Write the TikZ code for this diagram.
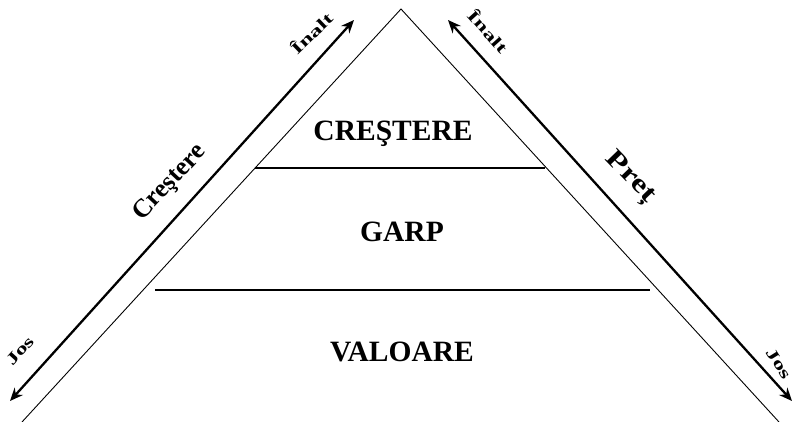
\documentclass[tikz,border=0pt]{standalone}
\usepackage{fontspec}
\setmainfont{Liberation Serif}
\usetikzlibrary{arrows.meta}
\tikzset{
  side/.style={line width=0.9pt},
  band/.style={line width=1.3pt},
  dblarrow/.style={line width=2.3pt,{Stealth[length=13pt,width=11pt]}-{Stealth[length=13pt,width=11pt]}},
  title/.style={font=\fontsize{29.5}{31}\selectfont\bfseries},
  axislbl/.style={font=\fontsize{26}{28}\selectfont\bfseries, inner sep=1pt},
  endlbl/.style={font=\fontsize{16}{18}\selectfont\bfseries, inner sep=1pt}
}
\newcommand{\stretchlbl}[2]{\scalebox{#1}[1]{#2}}
\begin{document}
\begin{tikzpicture}[x=1pt,y=-1pt]
\useasboundingbox (0,0) rectangle (793,422);
% triangle
\coordinate (apex) at (401,9);
\coordinate (bl) at (22,422);
\coordinate (br) at (779,422);
\draw[side] (bl) -- (apex) -- (br);
% band lines
\coordinate (l1a) at (255,168);
\coordinate (l1b) at (545,168);
\coordinate (l2a) at (155,290);
\coordinate (l2b) at (650,290);
\draw[band] (l1a) -- (l1b);
\draw[band] (l2a) -- (l2b);
% arrows
\coordinate (la1) at (10,401);
\coordinate (la2) at (354,20);
\coordinate (ra1) at (448,20);
\coordinate (ra2) at (792,401);
\draw[dblarrow] (la1) -- (la2);
\draw[dblarrow] (ra1) -- (ra2);
% titles
\node[title] (t1) at (393,134) {CREŞTERE};
\node[title] (t2) at (402,232) {GARP};
\node[title] (t3) at (402,352) {VALOARE};
% axis labels
\node[axislbl,rotate=47] (cr) at (170,183) {Creştere};
\node[axislbl,rotate=-46] (pr) at (630,178) {\stretchlbl{1.3}{Preț}};
\node[endlbl,rotate=44] (in1) at (311,33) {\stretchlbl{1.55}{Înalt}};
\node[endlbl,rotate=-48] (in2) at (489,31) {\stretchlbl{1.55}{Înalt}};
\node[endlbl,rotate=48] (jos1) at (20,351) {\stretchlbl{1.5}{Jos}};
\node[endlbl,rotate=-58] (jos2) at (779,364) {\stretchlbl{1.5}{Jos}};
\end{tikzpicture}
\end{document}
